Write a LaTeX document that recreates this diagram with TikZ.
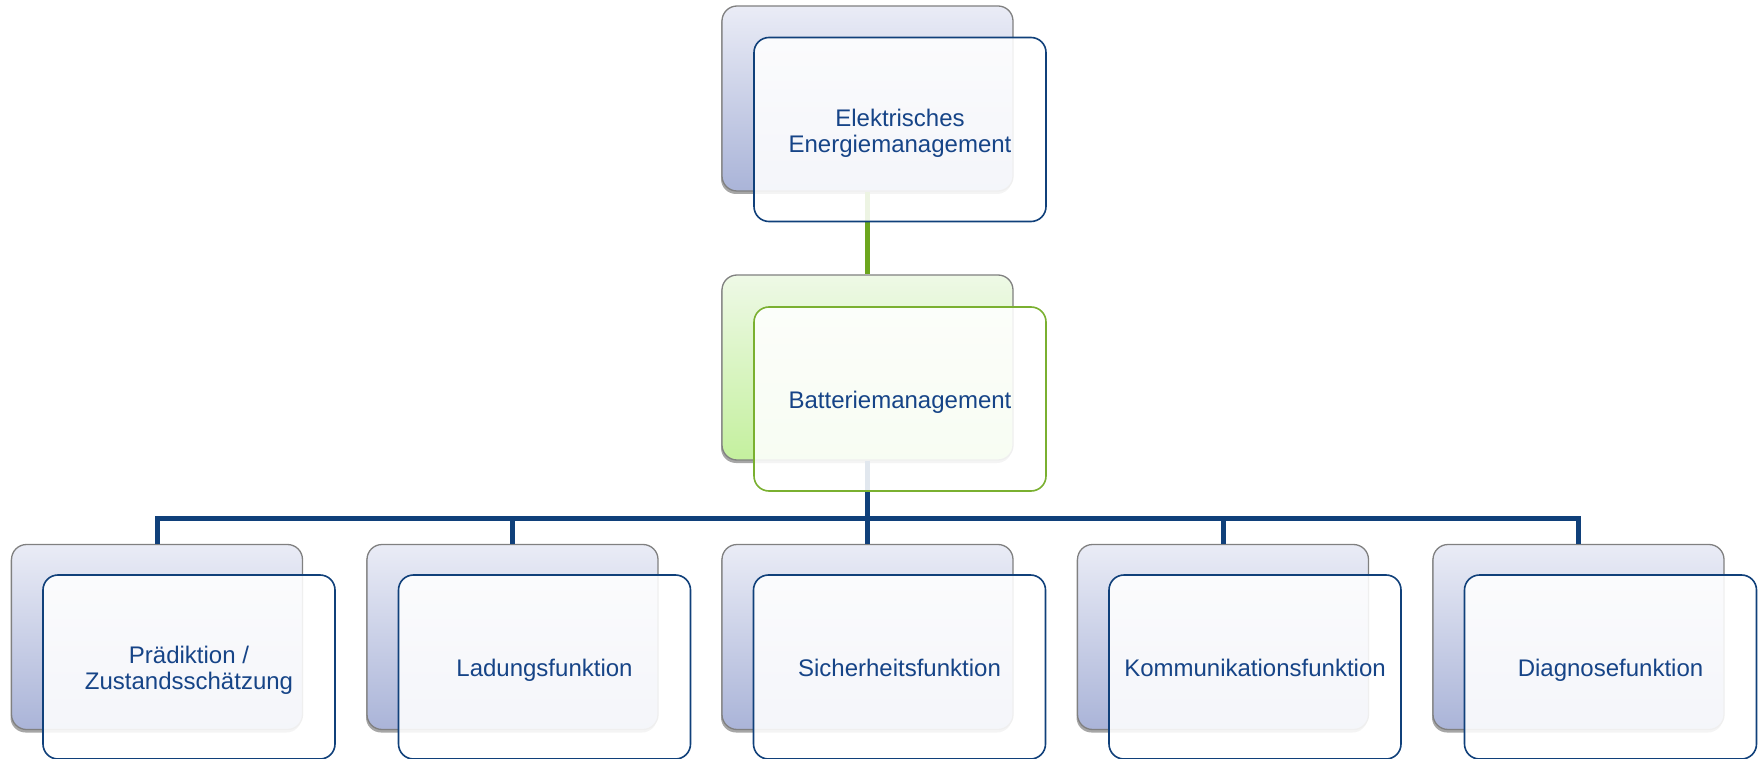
\documentclass[tikz,border=0pt]{standalone}
\usepackage{fontspec}
\setmainfont{Liberation Sans}
\usetikzlibrary{shadows}
\definecolor{txtblue}{RGB}{22,68,135}
\definecolor{frameblue}{RGB}{16,64,122}
\definecolor{linegreen}{RGB}{108,166,30}
\definecolor{framegreen}{RGB}{122,176,48}
\definecolor{backtop}{RGB}{234,236,246}
\definecolor{backbot}{RGB}{170,180,216}
\definecolor{greentop}{RGB}{238,249,230}
\definecolor{greenbot}{RGB}{196,240,158}
\definecolor{backframe}{RGB}{128,128,128}
\newcommand\mytstrut{\rule[-7.8pt]{0pt}{35pt}}
\tikzset{
  backbox/.style={rectangle, rounded corners=15pt, minimum width=291pt, minimum height=185pt,
    inner sep=0pt, draw=backframe, line width=1.3pt, top color=backtop, bottom color=backbot,
    drop shadow={shadow xshift=-1pt, shadow yshift=-3pt, opacity=0.35, fill=black}},
  backgreenbox/.style={backbox, top color=greentop, bottom color=greenbot},
  frontbox/.style={rectangle, rounded corners=15pt, minimum width=292pt, minimum height=184pt,
    inner sep=0pt, draw=frameblue, line width=1.6pt, fill=white, fill opacity=0.88,
    text opacity=1, text=txtblue, align=center, font=\fontsize{24}{26}\selectfont},
  frontgreenbox/.style={frontbox, draw=framegreen},
  bluecon/.style={draw=frameblue, line width=5pt, line join=miter},
  greencon/.style={draw=linegreen, line width=4.5pt}
}
\begin{document}
\begin{tikzpicture}[x=1pt,y=-1pt]
\useasboundingbox (0,0) rectangle (1762,759);
% back boxes
\node[backbox] (b1) at (867.5,98.5) {};
\node[backgreenbox] (b2) at (867.5,367.5) {};
\node[backbox] (p1) at (157,637) {};
\node[backbox] (p2) at (512.5,637) {};
\node[backbox] (p3) at (867.5,637) {};
\node[backbox] (p4) at (1223,637) {};
\node[backbox] (p5) at (1578.5,637) {};
% connectors
\coordinate (bus) at (867.5,518);
\draw[greencon] (b1.south) -- (b2.north);
\draw[bluecon] (b2.south) -- (bus);
\draw[bluecon] (p1.north) |- (bus) -| (p5.north);
\draw[bluecon] (p2.north) -- (p2.north |- bus);
\draw[bluecon] (bus) -- (p3.north);
\draw[bluecon] (p4.north) -- (p4.north |- bus);
% front boxes
\node[frontbox] (f1) at (900,129.5) {\mytstrut Elektrisches\\\strut Energiemanagement};
\node[frontgreenbox] (f2) at (900,399) {\mytstrut Batteriemanagement};
\node[frontbox] (q1) at (189,667) {\mytstrut Prädiktion /\\\strut Zustandsschätzung};
\node[frontbox] (q2) at (544.5,667) {\mytstrut Ladungsfunktion};
\node[frontbox] (q3) at (899.5,667) {\mytstrut Sicherheitsfunktion};
\node[frontbox] (q4) at (1255,667) {\mytstrut Kommunikationsfunktion};
\node[frontbox] (q5) at (1610.5,667) {\mytstrut Diagnosefunktion};
\end{tikzpicture}
\end{document}
